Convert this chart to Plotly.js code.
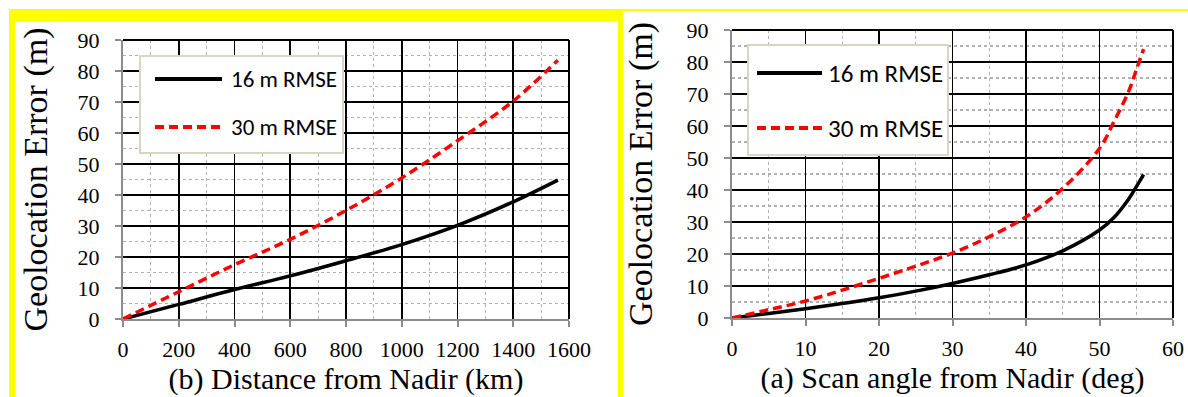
<!DOCTYPE html>
<html>
<head>
<meta charset="utf-8">
<script src="https://cdn.plot.ly/plotly-3.0.1.min.js"></script>
<style>
html,body{margin:0;padding:0;background:#fff;}
#chart{width:1188px;height:397px;}
</style>
</head>
<body>
<div id="chart"></div>
<script>
// ---- data ----
const seriesNames = ["16 m RMSE", "30 m RMSE"];

// (b) distance from nadir (km)
const distanceKm   = [0, 200, 400, 600, 800, 1000, 1200, 1400, 1560];
const dist16m      = [0, 4.7, 9.5, 13.9, 18.8, 24.0, 30.2, 37.8, 44.8];
const dist30m      = [0, 8.8, 17.5, 25.7, 35.0, 45.5, 57.5, 70.3, 83.5];

// (a) scan angle from nadir (deg)
const scanAngleDeg = [0, 5, 10, 15, 20, 25, 30, 35, 40, 45, 50, 52, 54, 55, 56];
const angle16m     = [0, 1.4, 2.9, 4.5, 6.3, 8.4, 10.8, 13.5, 16.6, 21.0, 27.5, 31.5, 37.3, 41.0, 44.8];
const angle30m     = [0, 2.6, 5.3, 8.7, 12.4, 16.2, 20.3, 25.4, 31.6, 40.5, 53.0, 61.5, 71.0, 77.5, 84.0];

const xTitleLeft  = "(b) Distance from Nadir (km)";
const xTitleRight = "(a) Scan angle from Nadir (deg)";
const yTitle      = "Geolocation Error (m)";

// ---- layout helpers (pixel -> paper) ----
const W = 1188, H = 397;
const px = v => v / W;
const py = v => 1 - v / H;

const blackLine = {color: "#000000", width: 3.5};
const redLine   = {color: "#ff0000", width: 3.5, dash: "9px,5px"};

const traces = [
  {x: distanceKm, y: dist16m, name: seriesNames[0], type: "scatter", mode: "lines",
   line: Object.assign({shape: "spline"}, blackLine), xaxis: "x", yaxis: "y", showlegend: false},
  {x: distanceKm, y: dist30m, name: seriesNames[1], type: "scatter", mode: "lines",
   line: Object.assign({shape: "spline"}, redLine), xaxis: "x", yaxis: "y", showlegend: false},
  {x: scanAngleDeg, y: angle16m, name: seriesNames[0], type: "scatter", mode: "lines",
   line: Object.assign({shape: "spline"}, blackLine), xaxis: "x2", yaxis: "y2", showlegend: false},
  {x: scanAngleDeg, y: angle30m, name: seriesNames[1], type: "scatter", mode: "lines",
   line: Object.assign({shape: "spline"}, redLine), xaxis: "x2", yaxis: "y2", showlegend: false}
];

const SERIF = "Liberation Serif";
const xTitleFont = {family: SERIF, size: 30, color: "#000"};
const yTitleFont = {family: SERIF, size: 34, color: "#000"};

function xAxis(domain, range, dtick, minorD, title) {
  return {
    domain: domain, range: range, dtick: dtick, tick0: 0, fixedrange: true,
    showgrid: true, gridcolor: "#000", gridwidth: 1.7, zeroline: false,
    minor: {dtick: minorD, showgrid: true, gridcolor: "#b0b0b0", gridwidth: 1.2, griddash: "dot", ticks: ""},
    showline: true, linecolor: "#8c8c8c", linewidth: 2,
    ticks: "outside", ticklen: 6, tickwidth: 2, tickcolor: "#8c8c8c",
    tickfont: {family: SERIF, size: 22, color: "#000"}, ticklabelstandoff: 4,
    title: {text: title, font: Object.assign({}, xTitleFont), standoff: 2}
  };
}
function yAxis(domain, anchor, standoff) {
  return {
    domain: domain, range: [0, 90], dtick: 10, tick0: 0, fixedrange: true, anchor: anchor,
    showgrid: true, gridcolor: "#000", gridwidth: 1.7, zeroline: false,
    minor: {dtick: 5, showgrid: true, gridcolor: "#b0b0b0", gridwidth: 1.2, griddash: "dot", ticks: ""},
    showline: true, linecolor: "#8c8c8c", linewidth: 2,
    ticks: "outside", ticklen: 6, tickwidth: 2, tickcolor: "#8c8c8c",
    tickfont: {family: SERIF, size: 22, color: "#000"}, ticklabelstandoff: 11,
    title: {text: yTitle, font: Object.assign({}, yTitleFont), standoff: standoff}
  };
}

const L = {x0: 123, x1: 569, y0: 40, y1: 319};
const R = {x0: 732, x1: 1173, y0: 30, y1: 318};

const yellow = "#ffff00";
const shapes = [
  // yellow frame around left panel
  {type: "rect", xref: "paper", yref: "paper", x0: px(9), x1: px(623), y0: py(9), y1: py(21), fillcolor: yellow, line: {width: 0}, layer: "below"},
  {type: "rect", xref: "paper", yref: "paper", x0: px(9), x1: px(15), y0: py(9), y1: py(397), fillcolor: yellow, line: {width: 0}, layer: "below"},
  {type: "rect", xref: "paper", yref: "paper", x0: px(618), x1: px(623), y0: py(9), y1: py(397), fillcolor: yellow, line: {width: 0}, layer: "below"},
  {type: "rect", xref: "paper", yref: "paper", x0: px(623), x1: px(1188), y0: py(9), y1: py(11.5), fillcolor: yellow, line: {width: 0}, layer: "below"},
  // black top/right borders of plot areas
  {type: "line", xref: "x domain", yref: "y domain", x0: 0, x1: 1, y0: 1, y1: 1, line: {color: "#000", width: 2}},
  {type: "line", xref: "x domain", yref: "y domain", x0: 1, x1: 1, y0: 0, y1: 1, line: {color: "#000", width: 2}},
  {type: "line", xref: "x2 domain", yref: "y2 domain", x0: 0, x1: 1, y0: 1, y1: 1, line: {color: "#000", width: 2}},
  {type: "line", xref: "x2 domain", yref: "y2 domain", x0: 1, x1: 1, y0: 0, y1: 1, line: {color: "#000", width: 2}}
];

const annotations = [];
function addLegend(box, rows, sample, textX, fontSize) {
  shapes.push({type: "rect", xref: "paper", yref: "paper", x0: px(box.x0), x1: px(box.x1), y0: py(box.y1), y1: py(box.y0),
               fillcolor: "#ffffff", line: {color: "#d9d5c3", width: 2}, layer: "above"});
  const styles = [blackLine, redLine];
  rows.forEach((ry, i) => {
    shapes.push({type: "line", xref: "paper", yref: "paper", x0: px(sample[0]), x1: px(sample[1]), y0: py(ry), y1: py(ry),
                 line: {color: styles[i].color, width: 4, dash: styles[i].dash || "solid"}, layer: "above"});
    annotations.push({xref: "paper", yref: "paper", x: px(textX), y: py(ry), xanchor: "left", yanchor: "middle",
                      text: seriesNames[i], showarrow: false,
                      font: {family: "Carlito, Lato, sans-serif", size: fontSize, color: "#000"}});
  });
}
addLegend({x0: 140, x1: 343, y0: 56, y1: 153}, [79, 127], [155, 222], 229, 23);
addLegend({x0: 748, x1: 948, y0: 45, y1: 155}, [73, 128], [757, 822], 826, 25);

const layout = {
  width: W, height: H,
  margin: {l: 0, r: 0, t: 0, b: 0},
  font: {family: SERIF, color: "#000"},
  paper_bgcolor: "#ffffff", plot_bgcolor: "#ffffff",
  showlegend: false,
  xaxis:  Object.assign(xAxis([px(L.x0), px(L.x1)], [0, 1600], 200, 100, xTitleLeft), {anchor: "y"}),
  yaxis:  yAxis([py(L.y1), py(L.y0)], "x", 20),
  xaxis2: Object.assign(xAxis([px(R.x0), px(R.x1)], [0, 60], 10, 5, xTitleRight), {anchor: "y2"}),
  yaxis2: yAxis([py(R.y1), py(R.y0)], "x2", 24),
  shapes: shapes,
  annotations: annotations
};

Plotly.newPlot("chart", traces, layout, {displayModeBar: false, staticPlot: true});
</script>
</body>
</html>
